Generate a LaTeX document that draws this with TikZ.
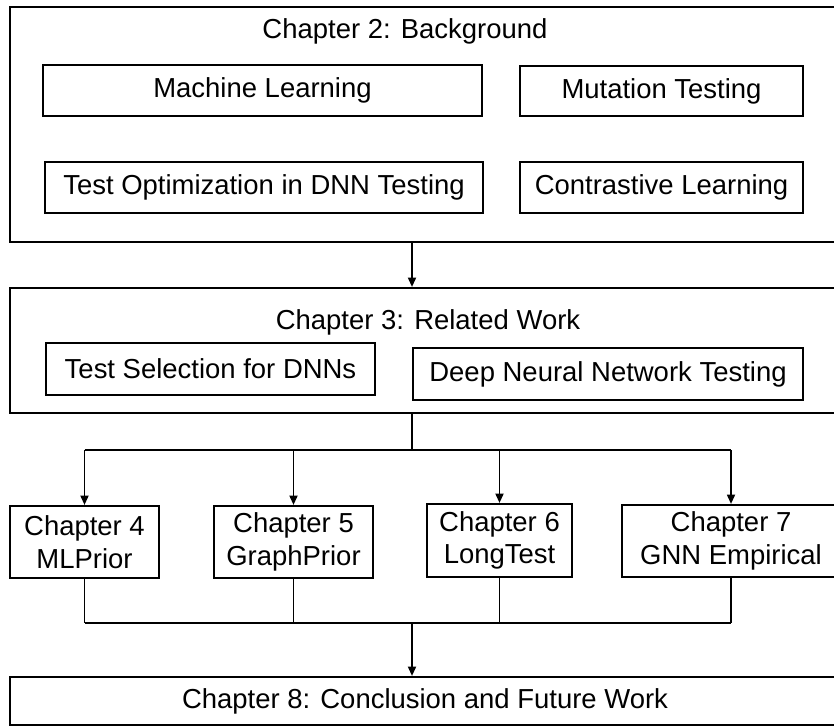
\documentclass[tikz,border=0pt]{standalone}
\usepackage{fontspec}
\setmainfont{Liberation Sans}
\usetikzlibrary{arrows.meta}

\begin{document}
\begin{tikzpicture}[x=0.75pt,y=-0.75pt,
  box/.style={draw, line width=1.6pt, inner sep=0pt, align=center,
    font=\fontsize{20.6}{24.5}\selectfont},
  title/.style={inner sep=0pt, font=\fontsize{20.6}{24.5}\selectfont},
  link/.style={line width=1.3pt},
  arr/.style={link, -{Triangle[length=7pt,width=6pt]}}]

\useasboundingbox (0,0) rectangle (834,727);
\clip (0,0) rectangle (834,727);

% Chapter 2
\node[box, minimum width=622.5pt, minimum height=176.25pt] (bg) at (425,124.5) {};
\node[title] (bgtitle) at (405,31) {Chapter 2: Background};
\node[box, minimum width=329.25pt, minimum height=38.25pt] (ml) at (262.5,90.5) {Machine Learning};
\node[box, minimum width=212.25pt, minimum height=37.5pt] (mut) at (661.5,91) {Mutation Testing};
\node[box, minimum width=328.5pt, minimum height=38.25pt] (topt) at (264,187.5) {Test Optimization in DNN Testing};
\node[box, minimum width=212.25pt, minimum height=38.25pt] (cl) at (661.5,187.5) {Contrastive Learning};

% Chapter 3
\node[box, minimum width=622.5pt, minimum height=93.75pt] (rw) at (425,350.5) {};
\node[title] (rwtitle) at (428,322) {Chapter 3: Related Work};
\node[box, minimum width=246.75pt, minimum height=39pt] (tsel) at (210.5,369) {Test Selection for DNNs};
\node[box, minimum width=292.5pt, minimum height=39pt] (dnnt) at (608,374) {Deep Neural Network Testing};

% Chapters 4--7
\node[box, minimum width=111.75pt, minimum height=54pt] (ch4) at (84.5,542) {Chapter 4\\MLPrior};
\node[box, minimum width=119.25pt, minimum height=54pt] (ch5) at (293.5,542) {Chapter 5\\GraphPrior};
\node[box, minimum width=108.75pt, minimum height=54.75pt] (ch6) at (499.5,540.5) {Chapter 6\\LongTest};
\node[box, minimum width=163.5pt, minimum height=54pt] (ch7) at (731,541) {Chapter 7\\GNN Empirical};

% Chapter 8
\node[box, minimum width=622.5pt, minimum height=36pt] (cw) at (425,701) {Chapter 8: Conclusion and Future Work};

\coordinate (split) at (412,450);
\coordinate (merge) at (412,623);

\draw[arr] (bg.south -| split) -- (rw.north -| split);
\draw[link] (rw.south -| split) -- (split);
\draw[link] (split -| ch4) -- (split -| ch7);
\foreach \c in {ch4,ch5,ch6,ch7} {
    \draw[arr] (split -| \c) -- (\c.north);
    \draw[link] (\c.south) -- (merge -| \c);
}
\draw[link] (merge -| ch4) -- (merge -| ch7);
\draw[arr] (merge) -- (cw.north -| merge);
\end{tikzpicture}
\end{document}
